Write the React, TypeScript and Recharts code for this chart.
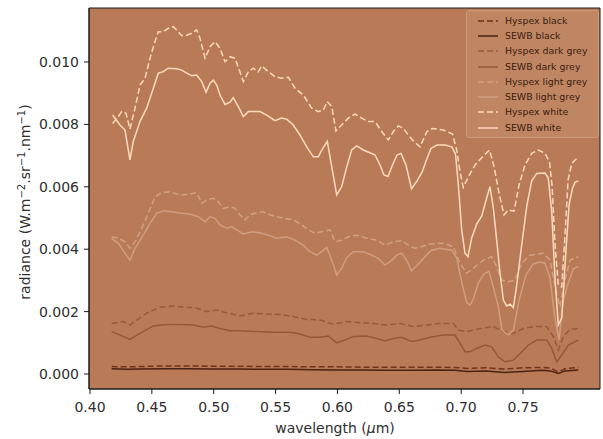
import React from 'react';
import { LineChart, Line, XAxis, YAxis, CartesianGrid, ReferenceArea, Legend, Label } from 'recharts';

// ---- data: [wavelength (µm), radiance] ----
const hyspexBlack: [number, number][] = [
  [0.4175, 0.00024], [0.43, 0.00023], [0.44, 0.00024], [0.46, 0.00026], [0.48, 0.00026], [0.5, 0.00025],
  [0.52, 0.00025], [0.54, 0.00024], [0.56, 0.00024], [0.58, 0.00023], [0.6, 0.00023], [0.62, 0.00022],
  [0.64, 0.00022], [0.66, 0.00022], [0.68, 0.00022], [0.695, 0.00021], [0.705, 0.00018], [0.72, 0.0002],
  [0.735, 0.00016], [0.75, 0.0002], [0.765, 0.00021], [0.772, 0.00019], [0.7785, 0.00007], [0.784, 0.00017],
  [0.7947, 0.00021],
];

const sewbBlack: [number, number][] = [
  [0.4175, 0.00017], [0.43, 0.00015], [0.44, 0.00016], [0.46, 0.00017], [0.48, 0.00017], [0.5, 0.00016],
  [0.52, 0.00016], [0.54, 0.00015], [0.56, 0.00015], [0.58, 0.00014], [0.6, 0.00013], [0.62, 0.00013],
  [0.64, 0.00012], [0.66, 0.00012], [0.68, 0.00013], [0.695, 0.00012], [0.705, 0.00008], [0.72, 0.0001],
  [0.735, 0.00005], [0.75, 0.00008], [0.765, 0.00012], [0.772, 0.0001], [0.7785, 0.00002], [0.784, 0.0001],
  [0.7947, 0.00013],
];

const hyspexDarkGrey: [number, number][] = [
  [0.4175, 0.00162], [0.4269, 0.00168], [0.4323, 0.00157], [0.4377, 0.00173], [0.4458, 0.00195], [0.4566, 0.00214],
  [0.4673, 0.00218], [0.4782, 0.00214], [0.4862, 0.00211], [0.4943, 0.002], [0.5024, 0.00205], [0.5105, 0.00196],
  [0.5212, 0.00186], [0.532, 0.00195], [0.5428, 0.00192], [0.5536, 0.00191], [0.5643, 0.00184], [0.5752, 0.00175],
  [0.5859, 0.00173], [0.5967, 0.0016], [0.6075, 0.00168], [0.6182, 0.00164], [0.629, 0.00162], [0.6398, 0.00157],
  [0.6506, 0.00162], [0.6613, 0.00152], [0.6722, 0.00157], [0.6829, 0.00162], [0.6937, 0.00162], [0.6977, 0.00141],
  [0.7045, 0.00136], [0.7152, 0.00146], [0.726, 0.00152], [0.7341, 0.00136], [0.7422, 0.0013], [0.7502, 0.00146],
  [0.7583, 0.00152], [0.7691, 0.00152], [0.7745, 0.0012], [0.7785, 0.00077], [0.7826, 0.0012], [0.788, 0.00143],
  [0.7947, 0.00146],
];

const sewbDarkGrey: [number, number][] = [
  [0.4175, 0.00136], [0.4242, 0.00125], [0.4323, 0.00111], [0.4404, 0.0013], [0.4512, 0.00154], [0.4619, 0.00159],
  [0.4727, 0.00159], [0.4835, 0.00157], [0.4916, 0.0015], [0.4983, 0.00154], [0.5051, 0.00146], [0.5132, 0.00139],
  [0.5212, 0.00139], [0.5347, 0.00136], [0.5482, 0.00134], [0.5617, 0.00134], [0.5697, 0.00128], [0.5778, 0.00118],
  [0.5859, 0.00118], [0.5926, 0.00122], [0.5994, 0.001], [0.6061, 0.00109], [0.6128, 0.0012], [0.6236, 0.00122],
  [0.6317, 0.00114], [0.6384, 0.00106], [0.6452, 0.00114], [0.6519, 0.00118], [0.66, 0.00104], [0.6667, 0.00109],
  [0.6748, 0.00118], [0.6856, 0.00125], [0.695, 0.00125], [0.6991, 0.00098], [0.7031, 0.00071], [0.7072, 0.00071],
  [0.7126, 0.00082], [0.7193, 0.00093], [0.7247, 0.00087], [0.73, 0.00055], [0.7354, 0.00039], [0.7422, 0.00045],
  [0.7476, 0.00066], [0.7543, 0.00093], [0.7611, 0.00109], [0.7691, 0.00109], [0.7732, 0.00082], [0.7772, 0.00039],
  [0.7813, 0.00061], [0.7866, 0.00093], [0.7947, 0.00109],
];

const hyspexLightGrey: [number, number][] = [
  [0.4175, 0.0044], [0.4229, 0.00435], [0.4283, 0.00424], [0.4323, 0.00403], [0.4364, 0.00424], [0.4418, 0.00467],
  [0.4471, 0.00515], [0.4525, 0.00568], [0.458, 0.00581], [0.4647, 0.00584], [0.4701, 0.00577], [0.4754, 0.00574],
  [0.4808, 0.00577], [0.4862, 0.00581], [0.4903, 0.00547], [0.4943, 0.00558], [0.4997, 0.00563], [0.5037, 0.00552],
  [0.5077, 0.00531], [0.5132, 0.00536], [0.5172, 0.00531], [0.5212, 0.0051], [0.5253, 0.00494], [0.5293, 0.0051],
  [0.5347, 0.00517], [0.5401, 0.0052], [0.5455, 0.0051], [0.5509, 0.00504], [0.5576, 0.00499], [0.5643, 0.00494],
  [0.5711, 0.00478], [0.5765, 0.00462], [0.5819, 0.00451], [0.5873, 0.00456], [0.594, 0.00462], [0.598, 0.00424],
  [0.6034, 0.00429], [0.6088, 0.0044], [0.6156, 0.00445], [0.6237, 0.00435], [0.6317, 0.00429], [0.6384, 0.00413],
  [0.6452, 0.00424], [0.6519, 0.00427], [0.6573, 0.00413], [0.6627, 0.00403], [0.6681, 0.00408], [0.6748, 0.00417],
  [0.6856, 0.00419], [0.6936, 0.00408], [0.6991, 0.00355], [0.7045, 0.00323], [0.7098, 0.00339], [0.7179, 0.00365],
  [0.7247, 0.00376], [0.7287, 0.00344], [0.7328, 0.00301], [0.7381, 0.00296], [0.7435, 0.00301], [0.7489, 0.00355],
  [0.7556, 0.00381], [0.7664, 0.00387], [0.7718, 0.00365], [0.7759, 0.0028], [0.7799, 0.00216], [0.784, 0.00301],
  [0.788, 0.00365], [0.7947, 0.00376],
];

const sewbLightGrey: [number, number][] = [
  [0.4175, 0.00435], [0.4229, 0.00419], [0.4283, 0.00387], [0.4323, 0.00365], [0.4364, 0.00403], [0.4431, 0.00445],
  [0.4485, 0.00483], [0.4539, 0.00515], [0.4592, 0.00523], [0.466, 0.0052], [0.4741, 0.00515], [0.4808, 0.00513],
  [0.4875, 0.00504], [0.493, 0.00488], [0.497, 0.00504], [0.501, 0.00499], [0.5051, 0.00478], [0.5105, 0.00467],
  [0.5145, 0.00472], [0.5186, 0.00462], [0.5239, 0.00449], [0.5307, 0.00456], [0.5374, 0.00453], [0.5441, 0.00445],
  [0.5509, 0.00435], [0.559, 0.0044], [0.5657, 0.00429], [0.5724, 0.00413], [0.5778, 0.00392], [0.5832, 0.00381],
  [0.5872, 0.00392], [0.5913, 0.00406], [0.5954, 0.00365], [0.5994, 0.00317], [0.6034, 0.00339], [0.6075, 0.00373],
  [0.6128, 0.00392], [0.6209, 0.00392], [0.6277, 0.00381], [0.633, 0.00371], [0.6384, 0.00349], [0.6425, 0.0036],
  [0.6479, 0.00381], [0.6519, 0.00387], [0.6559, 0.00365], [0.6599, 0.0033], [0.6654, 0.00353], [0.6708, 0.00376],
  [0.6756, 0.00396], [0.6829, 0.00403], [0.6924, 0.00397], [0.6964, 0.00372], [0.7004, 0.00295], [0.7045, 0.00229],
  [0.7072, 0.00221], [0.7098, 0.0024], [0.7139, 0.00292], [0.7185, 0.00321], [0.7225, 0.00329], [0.7266, 0.00269],
  [0.73, 0.00216], [0.733, 0.00141], [0.7381, 0.00125], [0.7422, 0.00141], [0.7468, 0.00237], [0.7524, 0.00317],
  [0.7581, 0.00353], [0.7637, 0.00359], [0.7678, 0.00355], [0.7718, 0.00308], [0.7754, 0.00189], [0.7791, 0.00109],
  [0.7823, 0.00231], [0.786, 0.00285], [0.7907, 0.00337], [0.7947, 0.00344],
];

const hyspexWhite: [number, number][] = [
  [0.4183, 0.00803], [0.4229, 0.00825], [0.4256, 0.00841], [0.4291, 0.00836], [0.4323, 0.00785], [0.4364, 0.00852],
  [0.4404, 0.00926], [0.4445, 0.00948], [0.4485, 0.01012], [0.4525, 0.01065], [0.4552, 0.01097], [0.4592, 0.01097],
  [0.4633, 0.01108], [0.4673, 0.01113], [0.4714, 0.01097], [0.4741, 0.01084], [0.4782, 0.01086], [0.4822, 0.01092],
  [0.4862, 0.01103], [0.4889, 0.01076], [0.493, 0.01012], [0.497, 0.01049], [0.501, 0.01065], [0.5051, 0.01044],
  [0.5091, 0.01001], [0.5132, 0.01017], [0.5172, 0.01012], [0.5207, 0.00974], [0.5239, 0.00937], [0.528, 0.00969],
  [0.532, 0.0098], [0.5358, 0.00968], [0.5388, 0.00987], [0.5441, 0.00969], [0.5495, 0.00953], [0.5549, 0.00948],
  [0.5603, 0.00951], [0.5657, 0.00916], [0.5724, 0.00894], [0.5792, 0.00852], [0.5845, 0.00841], [0.5886, 0.00846],
  [0.5918, 0.00873], [0.5954, 0.00857], [0.5988, 0.00779], [0.6034, 0.00798], [0.6088, 0.0082], [0.6142, 0.00833],
  [0.6196, 0.0082], [0.625, 0.00809], [0.6304, 0.00809], [0.6358, 0.00777], [0.6411, 0.0075], [0.6452, 0.00777],
  [0.6492, 0.00795], [0.6532, 0.00787], [0.6573, 0.00766], [0.6619, 0.00745], [0.6667, 0.00728], [0.6722, 0.00776],
  [0.6764, 0.00787], [0.6856, 0.00782], [0.693, 0.00769], [0.6964, 0.00718], [0.6991, 0.00647], [0.7017, 0.00598],
  [0.7058, 0.00632], [0.7112, 0.0067], [0.7179, 0.00699], [0.7229, 0.00718], [0.7266, 0.00664], [0.7306, 0.00579],
  [0.7346, 0.0051], [0.7381, 0.00526], [0.7427, 0.00522], [0.7468, 0.00606], [0.7516, 0.0067], [0.757, 0.00707],
  [0.7624, 0.00718], [0.7678, 0.00707], [0.7714, 0.00679], [0.7734, 0.00606], [0.7759, 0.00413], [0.7785, 0.00285],
  [0.7813, 0.00279], [0.784, 0.00451], [0.7864, 0.00622], [0.7894, 0.00675], [0.7934, 0.00691],
];

const sewbWhite: [number, number][] = [
  [0.4183, 0.0083], [0.4242, 0.00798], [0.4283, 0.00782], [0.4323, 0.00686], [0.435, 0.00745], [0.4404, 0.00809],
  [0.4458, 0.00852], [0.4512, 0.00916], [0.4552, 0.00964], [0.4592, 0.00969], [0.4633, 0.0098], [0.4701, 0.00978],
  [0.4741, 0.00974], [0.4782, 0.00964], [0.4822, 0.00956], [0.4862, 0.00958], [0.4903, 0.00937], [0.4938, 0.00903],
  [0.497, 0.00932], [0.4997, 0.00942], [0.5024, 0.00926], [0.5051, 0.00894], [0.5091, 0.00864], [0.5132, 0.00871],
  [0.5158, 0.00886], [0.5199, 0.00857], [0.5239, 0.00825], [0.528, 0.00841], [0.5374, 0.00841], [0.5428, 0.0083],
  [0.5495, 0.00812], [0.5549, 0.0082], [0.559, 0.00817], [0.5643, 0.00798], [0.5697, 0.00766], [0.5752, 0.00728],
  [0.5805, 0.00696], [0.5845, 0.00696], [0.5881, 0.00723], [0.5918, 0.00745], [0.5954, 0.00664], [0.5994, 0.00574],
  [0.6034, 0.006], [0.6075, 0.00664], [0.6115, 0.00718], [0.6156, 0.00731], [0.6209, 0.00718], [0.6263, 0.00709],
  [0.6304, 0.00702], [0.6344, 0.0067], [0.6376, 0.00638], [0.6409, 0.00633], [0.6445, 0.0067], [0.6481, 0.00702],
  [0.6514, 0.00707], [0.6554, 0.0067], [0.6599, 0.00593], [0.6643, 0.00619], [0.6684, 0.00647], [0.6722, 0.00689],
  [0.6756, 0.00723], [0.6805, 0.00734], [0.6869, 0.00734], [0.6924, 0.00728], [0.6954, 0.00705], [0.6977, 0.00606],
  [0.7004, 0.00462], [0.7031, 0.00387], [0.7055, 0.00376], [0.7085, 0.00436], [0.7126, 0.00481], [0.7166, 0.00506],
  [0.7206, 0.00564], [0.7233, 0.006], [0.726, 0.00532], [0.7287, 0.00429], [0.7314, 0.00323], [0.7341, 0.00237],
  [0.7368, 0.00218], [0.7395, 0.00224], [0.7422, 0.00213], [0.7449, 0.00285], [0.7489, 0.00413], [0.753, 0.00538],
  [0.757, 0.00619], [0.7611, 0.00643], [0.7678, 0.00644], [0.7704, 0.00628], [0.7732, 0.00519], [0.7759, 0.00301],
  [0.7785, 0.00157], [0.7813, 0.00179], [0.7847, 0.00397], [0.7872, 0.00542], [0.79, 0.00596], [0.792, 0.00614],
  [0.7947, 0.00619],
];

const xTicks = [0.4, 0.45, 0.5, 0.55, 0.6, 0.65, 0.7, 0.75];
const yTicks = [0, 0.002, 0.004, 0.006, 0.008, 0.01];
const X_DOMAIN: [number, number] = [0.3992, 0.8122];
const Y_DOMAIN: [number, number] = [-0.00048, 0.01173];

const FONT = '"DejaVu Sans", sans-serif';
const BG = '#b97b57';
const TEXT = '#2e2e2e';

type Series = { name: string; data: [number, number][]; color: string; dash?: string };
const SERIES: Series[] = [
  { name: 'Hyspex black', data: hyspexBlack, color: '#6e3419', dash: '6 3' },
  { name: 'SEWB black', data: sewbBlack, color: '#4c2210' },
  { name: 'Hyspex dark grey', data: hyspexDarkGrey, color: '#98593a', dash: '6 3' },
  { name: 'SEWB dark grey', data: sewbDarkGrey, color: '#96583a' },
  { name: 'Hyspex light grey', data: hyspexLightGrey, color: '#d2a083', dash: '6 3' },
  { name: 'SEWB light grey', data: sewbLightGrey, color: '#d09d80' },
  { name: 'Hyspex white', data: hyspexWhite, color: '#fcd8bb', dash: '6 3' },
  { name: 'SEWB white', data: sewbWhite, color: '#fcdabd' },
];

const toRows = (d: [number, number][]) => d.map(([w, v]) => ({ w, v }));

const renderLegend = () => (
  <div
    style={{
      background: '#c08664',
      border: '1px solid #cc9a7c',
      borderRadius: 3,
      padding: '2px 4px 2px 11px',
      boxSizing: 'border-box',
      width: 133,
      fontFamily: FONT,
    }}
  >
    {SERIES.map((s) => (
      <div key={s.name} style={{ display: 'flex', alignItems: 'center', height: 15.3 }}>
        <svg width={20} height={8} style={{ flex: 'none' }}>
          <line x1={0} y1={4} x2={20} y2={4} stroke={s.color} strokeWidth={1.5} strokeDasharray={s.dash} />
        </svg>
        <span style={{ marginLeft: 7, fontSize: 9.4, color: '#3a1c0c', whiteSpace: 'nowrap', lineHeight: '12px' }}>
          {s.name}
        </span>
      </div>
    ))}
  </div>
);

const YLabel = () => (
  <text
    x={30}
    y={202}
    transform="rotate(-90 30 202)"
    textAnchor="middle"
    fontSize={14}
    fill={TEXT}
    fontFamily={FONT}
  >
    radiance (W.m<tspan dy={-5} fontSize={10}>−2</tspan>
    <tspan dy={5}>.sr</tspan>
    <tspan dy={-5} fontSize={10}>−1</tspan>
    <tspan dy={5}>.nm</tspan>
    <tspan dy={-5} fontSize={10}>−1</tspan>
    <tspan dy={5}>)</tspan>
  </text>
);

const XLabel = () => (
  <text x={335} y={433} textAnchor="middle" fontSize={14} fill={TEXT} fontFamily={FONT}>
    wavelength (<tspan fontStyle="italic">μ</tspan>m)
  </text>
);

export default function App() {
  return (
    <div style={{ position: 'absolute', left: 0, top: 0, width: 603, height: 439, background: '#fff' }}>
      <LineChart width={603} height={439} margin={{ top: 8, right: 3, left: 0, bottom: 0 }}>
        <CartesianGrid fill={BG} stroke="none" horizontal={false} vertical={false} />
        <XAxis
          dataKey="w"
          type="number"
          domain={X_DOMAIN}
          allowDataOverflow
          ticks={xTicks}
          tickFormatter={(v: number) => v.toFixed(2)}
          height={50}
          tickSize={5}
          tickMargin={8}
          tick={{ fill: TEXT, fontSize: 14, fontFamily: FONT }}
          axisLine={{ stroke: '#1a1a1a' }}
          tickLine={{ stroke: '#1a1a1a' }}
        >
          <Label content={XLabel} />
        </XAxis>
        <YAxis
          type="number"
          domain={Y_DOMAIN}
          allowDataOverflow
          ticks={yTicks}
          tickFormatter={(v: number) => v.toFixed(3)}
          width={89}
          tickSize={5}
          tickMargin={5}
          tick={{ fill: TEXT, fontSize: 14, fontFamily: FONT }}
          axisLine={{ stroke: '#1a1a1a' }}
          tickLine={{ stroke: '#1a1a1a' }}
        >
          <Label content={YLabel} />
        </YAxis>
        <ReferenceArea
          x1={X_DOMAIN[0]}
          x2={X_DOMAIN[1]}
          y1={Y_DOMAIN[0]}
          y2={Y_DOMAIN[1]}
          fill="none"
          stroke="#1a1a1a"
          strokeWidth={1}
          ifOverflow="visible"
        />
        {SERIES.map((s) => (
          <Line
            key={s.name}
            name={s.name}
            data={toRows(s.data)}
            dataKey="v"
            stroke={s.color}
            strokeWidth={1.5}
            strokeDasharray={s.dash}
            dot={false}
            activeDot={false}
            isAnimationActive={false}
            type="linear"
          />
        ))}
        <Legend
          layout="vertical"
          align="center"
          verticalAlign="middle"
          wrapperStyle={{ left: 466, top: 10, width: 133 }}
          content={renderLegend}
        />
      </LineChart>
    </div>
  );
}
